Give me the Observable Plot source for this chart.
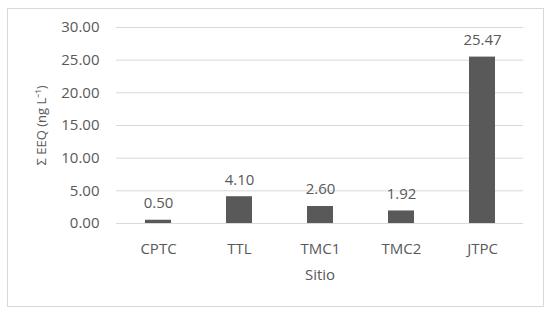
<!DOCTYPE html>
<html>
<head>
<meta charset="utf-8">
<script src="https://cdn.jsdelivr.net/npm/d3@7"></script>
<script src="https://cdn.jsdelivr.net/npm/@observablehq/plot@0.6"></script>
<style>
  html, body { margin: 0; padding: 0; background: #fff; }
  #wrap { position: relative; width: 550px; height: 315px; overflow: hidden; }
  #border { position: absolute; left: 7px; top: 8px; width: 535px; height: 297px; border: 1px solid #d9d9d9; pointer-events: none; }
  #wrap svg { position: absolute; left: 0; top: 0; }
</style>
</head>
<body>
<div id="wrap"><div id="border"></div></div>
<script>
const sites = ["CPTC", "TTL", "TMC1", "TMC2", "JTPC"];
const values = [0.50, 4.10, 2.60, 1.92, 25.47];
const yTicks = [0, 5, 10, 15, 20, 25, 30];
const xTitle = "Sitio";
const yTitle = "Σ EEQ (ng L⁻¹)";

const data = sites.map((s, i) => ({site: s, value: values[i]}));
const font = "'Open Sans', sans-serif";

const chart = Plot.plot({
  width: 550,
  height: 315,
  marginLeft: 116,
  marginRight: 27,
  marginTop: 27,
  marginBottom: 92,
  style: {fontFamily: font, fontSize: "15px", color: "#595959", background: "transparent"},
  x: {domain: sites, paddingInner: 0.68, paddingOuter: 0.34},
  y: {domain: [0, 30]},
  marks: [
    Plot.gridY(yTicks, {stroke: "#d9d9d9", strokeOpacity: 1, strokeWidth: 1}),
    Plot.barY(data, {x: "site", y: "value", fill: "#595959"}),
    Plot.text(data, {x: "site", y: "value", text: d => d.value.toFixed(2), dy: -17, fill: "#595959", fontSize: 15}),
    Plot.axisY(yTicks, {tickSize: 0, tickPadding: 17, tickFormat: d => d.toFixed(2), fill: "#595959", fontSize: 15, label: null}),
    Plot.axisY([], {tickSize: 0, fill: "#595959", fontSize: 13,
      label: yTitle, labelAnchor: "center", labelArrow: "none", labelOffset: 80}),
    Plot.axisX({tickSize: 0, tickPadding: 20, fill: "#595959", fontSize: 15,
      label: xTitle, labelAnchor: "center", labelArrow: "none", labelOffset: 56})
  ]
});
document.getElementById("wrap").appendChild(chart);
</script>
</body>
</html>
